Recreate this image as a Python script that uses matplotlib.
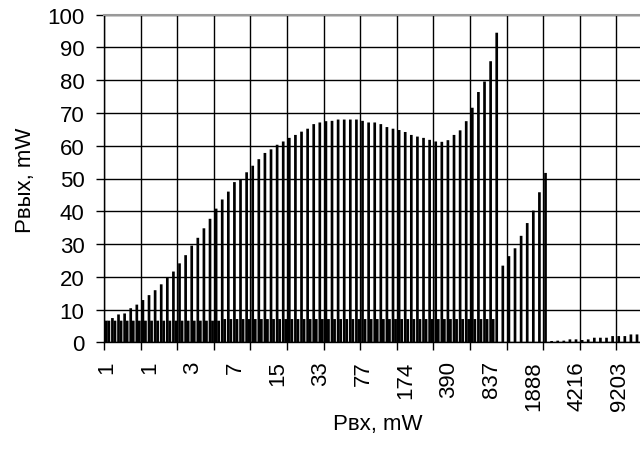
import numpy as np
import matplotlib
matplotlib.use('Agg')
import matplotlib.pyplot as plt

plt.rcParams['font.family'] = ['Liberation Sans', 'DejaVu Sans']

# output power (mW) for every input power step
p_out = [6.6, 7.4, 8.5, 8.8, 10.4, 11.5, 12.9, 14.4, 15.9, 17.7,
         19.7, 21.6, 24.1, 26.6, 29.5, 31.9, 34.8, 37.7, 40.8, 43.6,
         46.0, 48.9, 49.8, 51.9, 53.9, 55.9, 57.8, 58.9, 60.3, 61.3,
         62.4, 63.3, 64.3, 65.2, 66.6, 67.1, 67.5, 67.6, 68.0, 68.0,
         68.0, 68.0, 67.6, 67.1, 67.1, 66.6, 65.7, 65.2, 64.8, 64.2,
         63.3, 62.8, 62.4, 61.8, 61.3, 61.2, 61.7, 63.3, 64.7, 67.5,
         71.6, 76.4, 79.6, 85.8, 94.5, 23.4, 26.3, 28.7, 32.5, 36.4,
         40.2, 45.8, 51.7, 0.4, 0.5, 0.5, 0.9, 0.9, 0.7, 0.9,
         1.4, 1.4, 1.4, 1.9, 1.9, 1.9, 2.4, 2.4]

# second (low) series, only present for the first steps
p_base = [6.6] * 19 + [7.1] * 45

# category labels shown every 7th step
tick_labels = ['1', '1', '3', '7', '15', '33', '77', '174', '390', '837', '1888', '4216', '9203']

n = len(p_out)
x = np.arange(n)
xb = np.arange(len(p_base))

fig = plt.figure(figsize=(6.4, 4.64), dpi=100)
ax = fig.add_axes([104 / 640, 120.7 / 464, n * 6.1 / 640, 327.6 / 464])

# no pixel snapping -> thin grey seams between the bars like the original
ax.bar(x - 0.12, p_out, width=0.44, color='black', zorder=3, snap=False)
ax.bar(xb + 0.29, p_base, width=0.46, color='black', zorder=3, snap=False)

ax.set_xlim(-0.5, n - 0.5)
ax.set_ylim(0, 100)
ax.set_yticks(np.arange(0, 101, 10))

# gridlines / ticks on category boundaries every 6 steps, labels every 7 steps
ax.set_xticks(np.arange(-0.5, n, 6))
ax.set_xticklabels([])
ax.set_xticks(np.arange(0, n, 7)[:len(tick_labels)], minor=True)
ax.set_xticklabels(tick_labels, minor=True, rotation=90, fontsize=16, va='top')
ax.tick_params(axis='x', which='minor', length=0, pad=13)
ax.tick_params(axis='x', which='major', length=6, width=1, direction='out', color='black')
ax.tick_params(axis='y', length=6, width=1, direction='out', labelsize=16, pad=8)

ax.grid(True, which='major', color='black', linewidth=1, zorder=0)
ax.set_axisbelow(True)

ax.spines['top'].set_color('#999999')
ax.spines['top'].set_linewidth(1.5)
ax.spines['right'].set_visible(False)
ax.spines['left'].set_linewidth(1)
ax.spines['bottom'].set_linewidth(1)

fig.text(25 / 640, 1 - 180 / 464, 'Рвых, mW', rotation=90, fontsize=16, ha='center', va='center')
fig.text(378 / 640, 1 - 425 / 464, 'Рвх, mW', fontsize=16, ha='center', va='center')

plt.savefig('out.png', dpi=100)
